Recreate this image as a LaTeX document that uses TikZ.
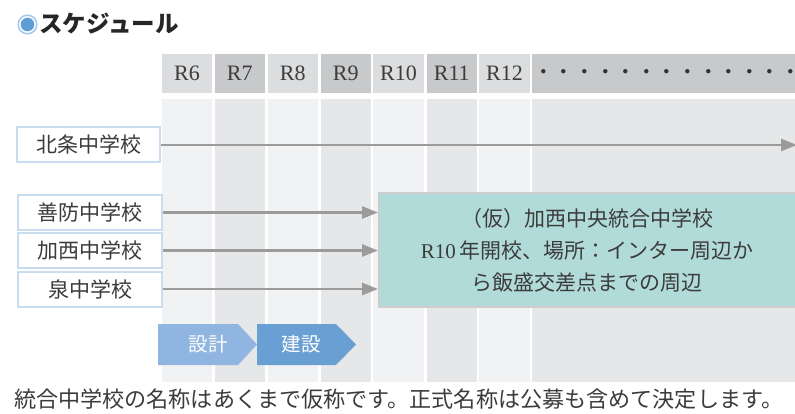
\documentclass[tikz,border=0pt]{standalone}
\usepackage{fontspec}
\setmainfont{Liberation Serif}
\newfontfamily\jp{Noto Sans CJK JP}
\usetikzlibrary{arrows.meta}
\definecolor{hdrL}{HTML}{DCDDDF}
\definecolor{hdrD}{HTML}{C8C9CB}
\definecolor{bodyL}{HTML}{F1F2F4}
\definecolor{bodyD}{HTML}{E6E7E9}
\definecolor{txt}{HTML}{3C3C3C}
\definecolor{schoolborder}{HTML}{C9DCF0}
\definecolor{arrowgray}{HTML}{9B9B9B}
\definecolor{tealfill}{HTML}{B1DBD8}
\definecolor{tealborder}{HTML}{CDCDCD}
\definecolor{chevA}{HTML}{8FB5E0}
\definecolor{chevB}{HTML}{6A9FD4}
\definecolor{ringblue}{HTML}{A9C9EC}
\definecolor{dotblue}{HTML}{5E9DD6}
\tikzset{
  hdr/.style={minimum width=50pt, minimum height=39pt, inner sep=0pt, text=txt,
    font=\fontsize{22pt}{24pt}\selectfont},
  school/.style={draw=schoolborder, line width=2pt, fill=white, minimum width=143pt,
    minimum height=35pt, inner sep=0pt, text=txt, font=\jp\fontsize{21pt}{24pt}\selectfont},
  arr/.style={draw=arrowgray, line width=2.5pt, -{Triangle[length=16pt,width=12pt]}},
  chevtext/.style={text=white, font=\jp\fontsize{19.5pt}{22pt}\selectfont, inner sep=0pt},
  jptext/.style={text=txt, inner sep=0pt}
}
\begin{document}
\begin{tikzpicture}[x=1pt,y=-1pt]
\useasboundingbox (0,0) rectangle (795,414);
\fill[white] (0,0) rectangle (795,414);
% title
\draw[ringblue, line width=1.6pt, fill=white] (27.5,24.5) circle (9.3);
\fill[dotblue] (27.5,24.5) circle (6.8);
\node[jptext, anchor=west, text=black!85, font=\jp\bfseries\fontsize{23.5pt}{26pt}\selectfont] (title) at (39,24) {スケジュール};
% body columns
\fill[bodyL] (162,99) rectangle (212,382);
\fill[bodyD] (214.5,99) rectangle (265,382);
\fill[bodyL] (267.5,99) rectangle (318,382);
\fill[bodyD] (320.5,99) rectangle (371,382);
\fill[bodyL] (373,99) rectangle (424,382);
\fill[bodyD] (426.5,99) rectangle (477,382);
\fill[bodyL] (479,99) rectangle (530,382);
\fill[bodyD] (532,99) rectangle (800,382);
% header
\node[hdr, fill=hdrL] (h6) at (187,73.5) {R6};
\node[hdr, fill=hdrD] (h7) at (239.75,73.5) {R7};
\node[hdr, fill=hdrL] (h8) at (292.75,73.5) {R8};
\node[hdr, fill=hdrD] (h9) at (345.75,73.5) {R9};
\node[hdr, fill=hdrL, minimum width=51pt] (h10) at (398.5,73.5) {R10};
\node[hdr, fill=hdrD] (h11) at (451.75,73.5) {R11};
\node[hdr, fill=hdrL, minimum width=51pt] (h12) at (504.5,73.5) {R12};
\fill[hdrD] (532,54) rectangle (800,93);
\node[jptext, anchor=west, text=black!80, font=\jp\fontsize{20.6pt}{22pt}\selectfont] (dots) at (533,74) {・・・・・・・・・・・・\makebox[5pt][l]{・}};
% new school box
\node[draw=tealborder, line width=2pt, fill=tealfill, minimum width=432pt, minimum height=114pt, inner sep=0pt] (new) at (595,250) {};
\node[jptext, align=center, font=\jp\fontsize{21pt}{32pt}\selectfont] (newtxt) at (587,250)
  {（仮）加西中央統合中学校\\{\rmfamily R10}\,年開校、場所：インター周辺か\\ら飯盛交差点までの周辺};
% schools
\node[school] (hojo) at (88.5,145) {北条中学校};
\node[school, minimum width=144pt] (zenbo) at (90,212.5) {善防中学校};
\node[school, minimum width=144pt] (kasai) at (90,250.5) {加西中学校};
\node[school, minimum width=144pt] (izumi) at (90,289) {泉中学校};
% arrows
\coordinate (hojoend) at (797,145);
\draw[arr] (hojo.east) -- (hojoend);
\draw[arr] (zenbo.east) -- (zenbo.east -| new.west);
\draw[arr] (kasai.east) -- (kasai.east -| new.west);
\draw[arr] (izumi.east) -- (izumi.east -| new.west);
% chevrons
\fill[chevA] (158,324) -- (238,324) -- (257,344.5) -- (238,365) -- (158,365) -- cycle;
\fill[chevB] (257,324) -- (336,324) -- (356,344.5) -- (336,365) -- (257,365) -- cycle;
\node[chevtext] (sekkei) at (208,344.5) {設計};
\node[chevtext] (kensetsu) at (301,344.5) {建設};
% footer
\node[jptext, anchor=west, font=\jp\fontsize{22.1pt}{24pt}\selectfont] (note) at (14,399) {統合中学校の名称はあくまで仮称です。正式名称は公募も含めて決定します。};
\end{tikzpicture}
\end{document}
